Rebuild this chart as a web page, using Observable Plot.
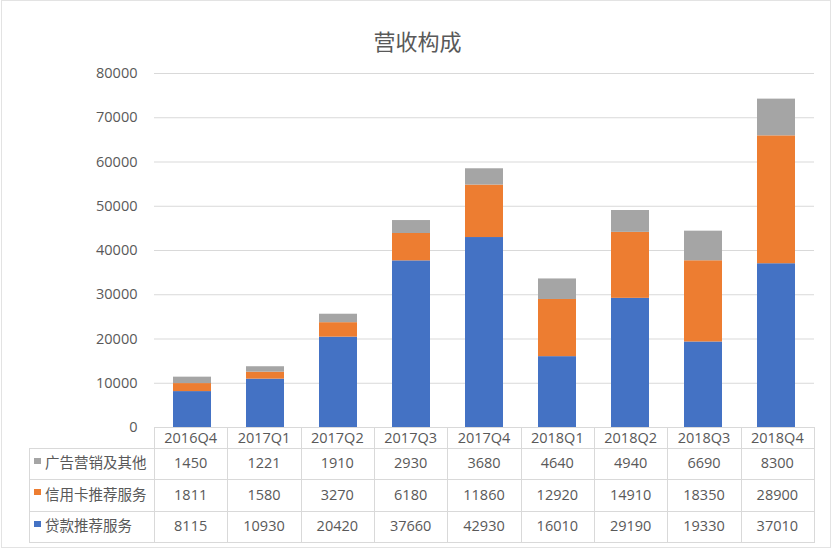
<!DOCTYPE html>
<html><head><meta charset="utf-8">
<script src="https://cdn.jsdelivr.net/npm/d3@7"></script>
<script src="https://cdn.jsdelivr.net/npm/@observablehq/plot@0.6"></script>
<style>
body{margin:0;background:#fff;}
#wrap{position:relative;width:835px;height:553px;font-family:"Open Sans","Noto Sans CJK SC",sans-serif;color:#595959;}
.ln{position:absolute;background:#d9d9d9;}
.tx{position:absolute;font-size:14.5px;color:#595959;white-space:nowrap;line-height:1;}
.sw{position:absolute;width:7px;height:6px;}
</style></head>
<body><div id="wrap"></div>
<script>
const quarters = ["2016Q4","2017Q1","2017Q2","2017Q3","2017Q4","2018Q1","2018Q2","2018Q3","2018Q4"];
const seriesNames = ["贷款推荐服务","信用卡推荐服务","广告营销及其他"];
const seriesColors = ["#4472C4","#ED7D31","#A5A5A5"];
const loan = [8115,10930,20420,37660,42930,16010,29190,19330,37010];
const card = [1811,1580,3270,6180,11860,12920,14910,18350,28900];
const ads = [1450,1221,1910,2930,3680,4640,4940,6690,8300];
const yTicks = [0,10000,20000,30000,40000,50000,60000,70000,80000];
const title = "营收构成";

const seriesValues = [loan, card, ads];
const data = [];
seriesNames.forEach((s, si) => quarters.forEach((q, qi) => data.push({quarter:q, series:s, value:seriesValues[si][qi]})));

const font = '"Open Sans","Noto Sans CJK SC",sans-serif';
const plot = Plot.plot({
  width: 835, height: 553,
  marginTop: 73, marginBottom: 126, marginLeft: 154, marginRight: 21,
  style: {fontFamily: font, fontSize: "14.5px", color: "#595959", background: "transparent"},
  x: {domain: quarters, paddingInner: 0.48, paddingOuter: 0.24, axis: null},
  y: {domain: [0, 80000], ticks: yTicks, tickSize: 0, tickPadding: 17, label: null, tickFormat: d => String(d)},
  color: {domain: seriesNames, range: seriesColors},
  marks: [
    Plot.gridY(yTicks, {stroke: "#d9d9d9", strokeOpacity: 1}),
    Plot.barY(data, {x: "quarter", y: "value", fill: "series"}),
    Plot.text([title], {frameAnchor: "top", dx: -67, dy: -39, fontSize: 22, fill: "#595959", fontFamily: '"Noto Sans CJK SC",sans-serif'})
  ]
});
const wrap = document.getElementById("wrap");
plot.style.position = "absolute"; plot.style.left = "0"; plot.style.top = "0";
wrap.appendChild(plot);

// data table below the chart, aligned to the x scale
const xs = plot.scale("x");
const r0 = xs.range[0], r1 = xs.range[1];
const step = (r1 - r0) / quarters.length;
const y0 = 427, hdrB = 448, rowB = [479, 511, 542], labL = 29;
function line(x, y, w, h){ const d = document.createElement("div"); d.className = "ln"; Object.assign(d.style,{left:x+"px",top:y+"px",width:w+"px",height:h+"px"}); wrap.appendChild(d); }
function text(t, cx, cy, align){ const d = document.createElement("div"); d.className = "tx"; d.textContent = t;
  d.style.top = (cy - 7.5) + "px";
  if (align === "left") d.style.left = cx + "px"; else { d.style.left = (cx - 60) + "px"; d.style.width = "120px"; d.style.textAlign = "center"; }
  wrap.appendChild(d); }
// horizontal lines
line(labL, hdrB, r1 - labL + 1, 1);
rowB.forEach(y => line(labL, y, r1 - labL + 1, 1));
// vertical lines
for (let i = 0; i <= quarters.length; i++) line(Math.round(r0 + i * step), y0, 1, rowB[2] - y0 + 1);
line(labL, hdrB, 1, rowB[2] - hdrB + 1);
// header
quarters.forEach((q, i) => text(q, r0 + (i + 0.5) * step, (y0 + hdrB) / 2 + 0.5));
// rows: top to bottom ads, card, loan
const rowOrder = [2, 1, 0];
rowOrder.forEach((si, ri) => {
  const top = ri === 0 ? hdrB : rowB[ri - 1], bot = rowB[ri];
  const cy = (top + bot) / 2;
  const sw = document.createElement("div"); sw.className = "sw"; sw.style.background = seriesColors[si];
  sw.style.left = "34px"; sw.style.top = (cy - 6) + "px"; wrap.appendChild(sw);
  text(seriesNames[si], 45, cy, "left");
  seriesValues[si].forEach((v, i) => text(String(v), r0 + (i + 0.5) * step, cy));
});
// chart border
const b = document.createElement("div");
Object.assign(b.style,{position:"absolute",left:"1px",top:"0px",width:"830px",height:"548px",border:"1px solid #e3e3e3",boxSizing:"border-box",pointerEvents:"none"});
wrap.appendChild(b);
</script></body></html>
